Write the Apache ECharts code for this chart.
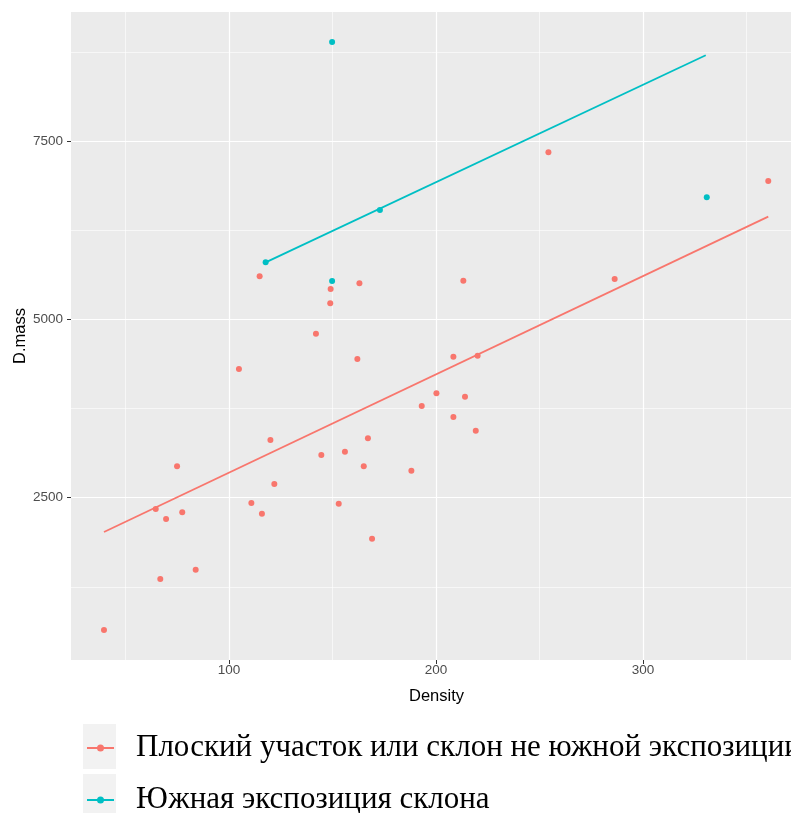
<!DOCTYPE html>
<html>
<head>
<meta charset="utf-8">
<script src="https://cdn.jsdelivr.net/npm/echarts@6/dist/echarts.min.js"></script>
<style>html,body{margin:0;padding:0;background:#fff}#c{width:791px;height:813px}</style>
</head>
<body>
<div id="c"></div>
<script>
// ---- data ----
const pinkName = 'Плоский участок или склон не южной экспозиции';
const tealName = 'Южная экспозиция склона';

const pinkX = [39.6, 64.6, 66.8, 69.6, 74.9, 77.4, 83.9, 104.8, 110.8, 114.8, 115.9, 120.0, 121.9, 142.0, 144.6, 148.9, 149.1, 153.0, 156.0, 162.0, 163.0, 165.1, 167.1, 169.1, 188.1, 193.1, 200.2, 208.4, 208.4, 213.2, 214.0, 219.2, 220.1, 254.3, 286.3, 360.5];
const pinkY = [645, 2342, 1360, 2201, 2940, 2295, 1491, 4305, 2426, 5604, 2276, 3309, 2692, 4800, 3099, 5225, 5426, 2416, 3145, 4445, 5506, 2940, 3333, 1925, 2879, 3786, 3963, 4477, 3632, 5543, 3916, 3440, 4491, 7343, 5566, 6941];

const tealX = [117.7, 149.8, 149.8, 172.9, 330.8];
const tealY = [5800, 8890, 5538, 6534, 6712];

const pinkFitX = [39.6, 360.5];
const pinkFitY = [2019, 6440];
const tealFitX = [117.7, 330.3];
const tealFitY = [5800, 8703];

const xTicks = [100, 200, 300];
const xMinor = [50, 150, 250, 350];
const yTicks = [2500, 5000, 7500];
const yMinor = [1250, 3750, 6250, 8750];

// ---- chart ----
const pinkColor = '#F8766D';
const tealColor = '#00BFC4';
const zip = (a, b) => a.map((v, i) => [v, b[i]]);
const legendIcon = 'path://M0,3 L27,3 L27,5 L0,5 Z M13.5,0.5 A3.5,3.5 0 1 1 13.5,7.5 A3.5,3.5 0 1 1 13.5,0.5 Z';

const gridLines = []
  .concat(yMinor.map(v => ({ yAxis: v, lineStyle: { width: 0.6 } })))
  .concat(xMinor.map(v => ({ xAxis: v, lineStyle: { width: 0.6 } })))
  .concat(yTicks.map(v => ({ yAxis: v, lineStyle: { width: 1.2 } })))
  .concat(xTicks.map(v => ({ xAxis: v, lineStyle: { width: 1.2 } })));

const legendText = {
  fontFamily: 'Liberation Serif',
  fontSize: 31,
  lineHeight: 32,
  color: '#000000',
  padding: [0, 0, 0, 17]
};
const legendBase = {
  orient: 'vertical', left: 87, padding: 0, itemWidth: 27, itemHeight: 7,
  selectedMode: false, textStyle: legendText
};

const chart = echarts.init(document.getElementById('c'), null, { renderer: 'canvas' });
chart.setOption({
  animation: false,
  backgroundColor: '#ffffff',
  graphic: [
    { type: 'rect', left: 83, top: 724, shape: { width: 33, height: 45 }, style: { fill: '#F2F2F2' }, z: 0 },
    { type: 'rect', left: 83, top: 774, shape: { width: 33, height: 45 }, style: { fill: '#F2F2F2' }, z: 0 }
  ],
  legend: [
    Object.assign({}, legendBase, { top: 732, data: [{ name: pinkName, icon: legendIcon }] }),
    Object.assign({}, legendBase, { top: 784, data: [{ name: tealName, icon: legendIcon }] })
  ],
  grid: {
    left: 71, top: 12, width: 731, height: 648,
    show: true, backgroundColor: '#EBEBEB', borderWidth: 0,
    containLabel: false,
    outerBoundsMode: 'none'
  },
  xAxis: {
    type: 'value',
    min: 23.67, max: 376.8,
    name: 'Density',
    nameLocation: 'middle',
    nameGap: 28,
    nameTextStyle: { fontFamily: 'Liberation Sans', fontSize: 16.5, color: '#000000' },
    axisLine: { show: false },
    axisTick: { show: true, length: 4, customValues: xTicks, lineStyle: { color: '#333333', width: 1 } },
    axisLabel: { customValues: xTicks, margin: 3, fontFamily: 'Liberation Sans', fontSize: 13.5, color: '#4D4D4D', formatter: v => String(v) },
    splitLine: { show: false },
    minorSplitLine: { show: false }
  },
  yAxis: {
    type: 'value',
    min: 224, max: 9310,
    name: 'D.mass',
    nameLocation: 'middle',
    nameRotate: 90,
    nameGap: 42,
    nameMoveOverlap: false,
    nameTextStyle: { fontFamily: 'Liberation Sans', fontSize: 16.5, color: '#000000' },
    axisLine: { show: false },
    axisTick: { show: true, length: 4, customValues: yTicks, lineStyle: { color: '#333333', width: 1 } },
    axisLabel: { customValues: yTicks, margin: 8, fontFamily: 'Liberation Sans', fontSize: 13.5, color: '#4D4D4D', formatter: v => String(v) },
    splitLine: { show: false },
    minorSplitLine: { show: false }
  },
  series: [
    {
      name: 'grid', type: 'scatter', data: [], z: 1, silent: true,
      markLine: {
        silent: true, z: 1, symbol: ['none', 'none'], animation: false,
        label: { show: false },
        emphasis: { disabled: true },
        lineStyle: { color: '#FFFFFF', type: 'solid' },
        data: gridLines
      }
    },
    {
      name: pinkName, type: 'scatter', z: 10, symbol: 'circle', symbolSize: 6,
      itemStyle: { color: pinkColor, opacity: 1 },
      data: zip(pinkX, pinkY)
    },
    {
      name: tealName, type: 'scatter', z: 10, symbol: 'circle', symbolSize: 6,
      itemStyle: { color: tealColor, opacity: 1 },
      data: zip(tealX, tealY)
    },
    {
      name: pinkName + ' fit', type: 'line', z: 11, showSymbol: false, symbol: 'none',
      lineStyle: { color: pinkColor, width: 1.8 },
      data: zip(pinkFitX, pinkFitY)
    },
    {
      name: tealName + ' fit', type: 'line', z: 11, showSymbol: false, symbol: 'none',
      lineStyle: { color: tealColor, width: 1.8 },
      data: zip(tealFitX, tealFitY)
    }
  ]
});
</script>
</body>
</html>
